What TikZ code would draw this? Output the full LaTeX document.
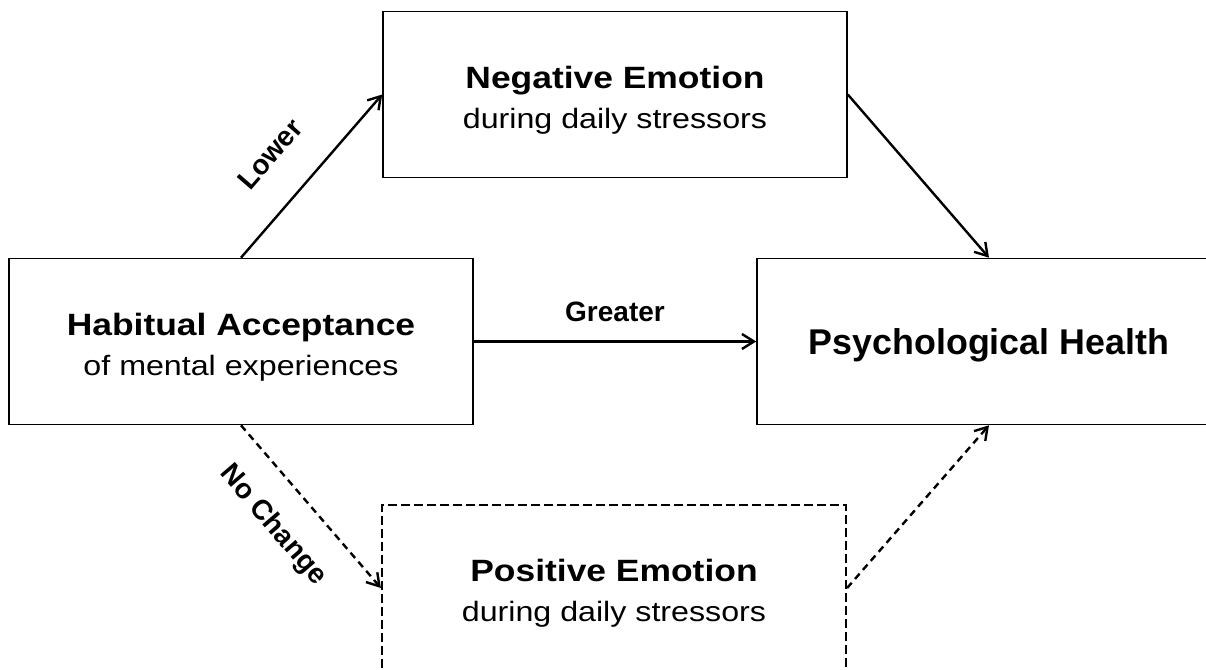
\documentclass[tikz,border=0pt]{standalone}
\usepackage{fontspec}
\setmainfont{Liberation Sans}
\newfontfamily\widefont{Liberation Sans}[FakeStretch=1.15]
\usetikzlibrary{arrows.meta}

\tikzset{
  box/.style={draw, line width=0.8pt, minimum width=232pt, minimum height=83pt,
    inner sep=0pt, align=center, font=\widefont\fontsize{14}{20}\selectfont},
  dashbox/.style={box, line width=1.1pt, dash pattern=on 4.5pt off 2pt},
  link/.style={line width=1.2pt, -{Straight Barb[length=6pt,width=7.5pt]}},
  dashlink/.style={link, dash pattern=on 3.5pt off 2.5pt},
  lab/.style={font=\bfseries\fontsize{14}{16}\selectfont},
}
\newcommand{\boxhead}[1]{{\rule{0pt}{16.7pt}\bfseries\fontsize{15.4}{20}\selectfont #1}}

\begin{document}
\begin{tikzpicture}[x=0.5pt,y=0.5pt]
  \useasboundingbox (0,0) rectangle (1206,670);
  % boxes
  \node[box] (neg) at (615,575.5) {\boxhead{Negative Emotion}\\during daily stressors};
  \node[box] (hab) at (241,328.5) {\boxhead{Habitual Acceptance}\\of mental experiences};
  \node[box, font=\bfseries\fontsize{17.9}{20}\selectfont, text height=12.8pt, text depth=0pt]
    (psy) at (989,328.5) {Psychological Health};
  \node[dashbox] (pos) at (614,82) {\boxhead{Positive Emotion}\\during daily stressors};
  % paths
  \draw[link] (hab.north) -- node[lab, sloped, above=14pt, pos=0.45] (lower) {Lower} (neg.west);
  \draw[link] (hab.east) -- node[lab, above=6pt] (greater) {Greater} (psy.west);
  \draw[link] (neg.east) -- (psy.north);
  \draw[dashlink] (hab.south) -- node[lab, sloped, below=10pt, pos=0.45] (nochange) {No Change} (pos.west);
  \draw[dashlink] (pos.east) -- (psy.south);
\end{tikzpicture}
\end{document}
